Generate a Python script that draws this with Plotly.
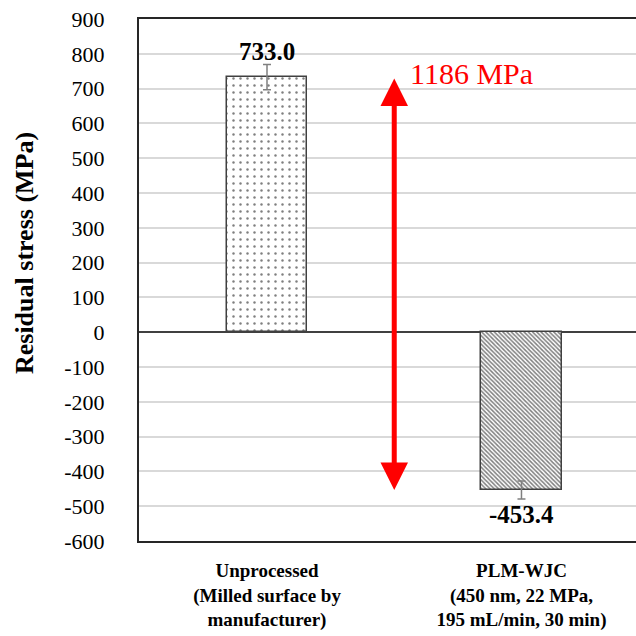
import plotly.graph_objects as go

# Residual stress measurements
categories = ["Unprocessed", "PLM-WJC"]
category_labels = [
    "<b>Unprocessed<br>(Milled surface by<br>manufacturer)</b>",
    "<b>PLM-WJC<br>(450 nm, 22 MPa,<br>195 mL/min, 30 min)</b>",
]
stress = [733.0, -453.4]
stress_err = [36, 26]
value_labels = ["733.0", "-453.4"]
difference_label = "1186 MPa"

y_ticks = list(range(-600, 1000, 100))
y_tick_text = [str(v) for v in y_ticks]

SERIF = "Liberation Serif"
xpos = list(range(len(categories)))

fig = go.Figure()

fig.add_trace(go.Bar(
    x=[xpos[0]], y=[stress[0]],
    width=0.315,
    marker=dict(
        color="white",
        line=dict(color="#404040", width=1.5),
        pattern=dict(shape=".", size=7, solidity=0.1, fgcolor="black", bgcolor="white"),
    ),
    error_y=dict(type="data", array=[stress_err[0]], color="#808080", thickness=1.5, width=4),
    showlegend=False,
))
fig.add_trace(go.Bar(
    x=[xpos[1]], y=[stress[1]],
    width=0.315,
    marker=dict(
        color="white",
        line=dict(color="#404040", width=1.5),
        pattern=dict(shape="\\", size=3, solidity=0.5, fgcolor="black", bgcolor="white"),
    ),
    error_y=dict(type="data", array=[stress_err[1]], color="#808080", thickness=1.5, width=4),
    showlegend=False,
))

# Value labels above / below the bars
fig.add_annotation(x=xpos[0], y=stress[0] + stress_err[0], text=f"<b>{value_labels[0]}</b>",
                   showarrow=False, yanchor="bottom", yshift=-2,
                   font=dict(family=SERIF, size=25, color="black"))
fig.add_annotation(x=xpos[1], y=stress[1] - stress_err[1], text=f"<b>{value_labels[1]}</b>",
                   showarrow=False, yanchor="top", yshift=0,
                   font=dict(family=SERIF, size=25, color="black"))

# Double-headed arrow spanning the stress difference
fig.add_annotation(x=0.5, y=stress[1], ax=0.5, ay=stress[0],
                   xref="x", yref="y", axref="x", ayref="y",
                   text="", showarrow=True, arrowhead=2, startarrowhead=2,
                   arrowside="end+start", arrowsize=1.1, startarrowsize=1.1,
                   arrowwidth=5, arrowcolor="#ff0000", standoff=0, startstandoff=0)
fig.add_annotation(x=0.555, y=stress[0] + 10, text=difference_label, showarrow=False,
                   xanchor="left", yanchor="middle",
                   font=dict(family=SERIF, size=30, color="#ff0000"))

# Axis title placed as a rotated annotation left of the tick labels
fig.add_annotation(x=-0.229, y=0.552, xref="paper", yref="paper",
                   text="<b>Residual stress (MPa)</b>",
                   showarrow=False, textangle=-90, xanchor="center", yanchor="middle",
                   font=dict(family=SERIF, size=26, color="black"))

fig.update_layout(
    width=636, height=636,
    margin=dict(l=139, r=0, t=19, b=95),
    paper_bgcolor="white", plot_bgcolor="white",
    bargap=0,
    font=dict(family=SERIF, color="black"),
)

fig.update_xaxes(
    range=[-0.503, 1.45],
    tickmode="array", tickvals=xpos, ticktext=category_labels,
    tickfont=dict(family=SERIF, size=19, color="black"),
    showgrid=False, showline=True, linecolor="#262626", linewidth=2, mirror=True,
    ticks="outside", ticklen=0, ticklabelstandoff=11, zeroline=False,
)
fig.update_yaxes(
    range=[-600, 900],
    tickmode="array", tickvals=y_ticks, ticktext=y_tick_text,
    tickfont=dict(family=SERIF, size=22, color="black"),
    showgrid=True, gridcolor="#d9d9d9", gridwidth=1.5,
    showline=True, linecolor="#262626", linewidth=2,
    zeroline=True, zerolinecolor="#404040", zerolinewidth=1.5,
    ticks="outside", ticklen=0, ticklabelstandoff=28,
)

fig.write_html("out.html")
